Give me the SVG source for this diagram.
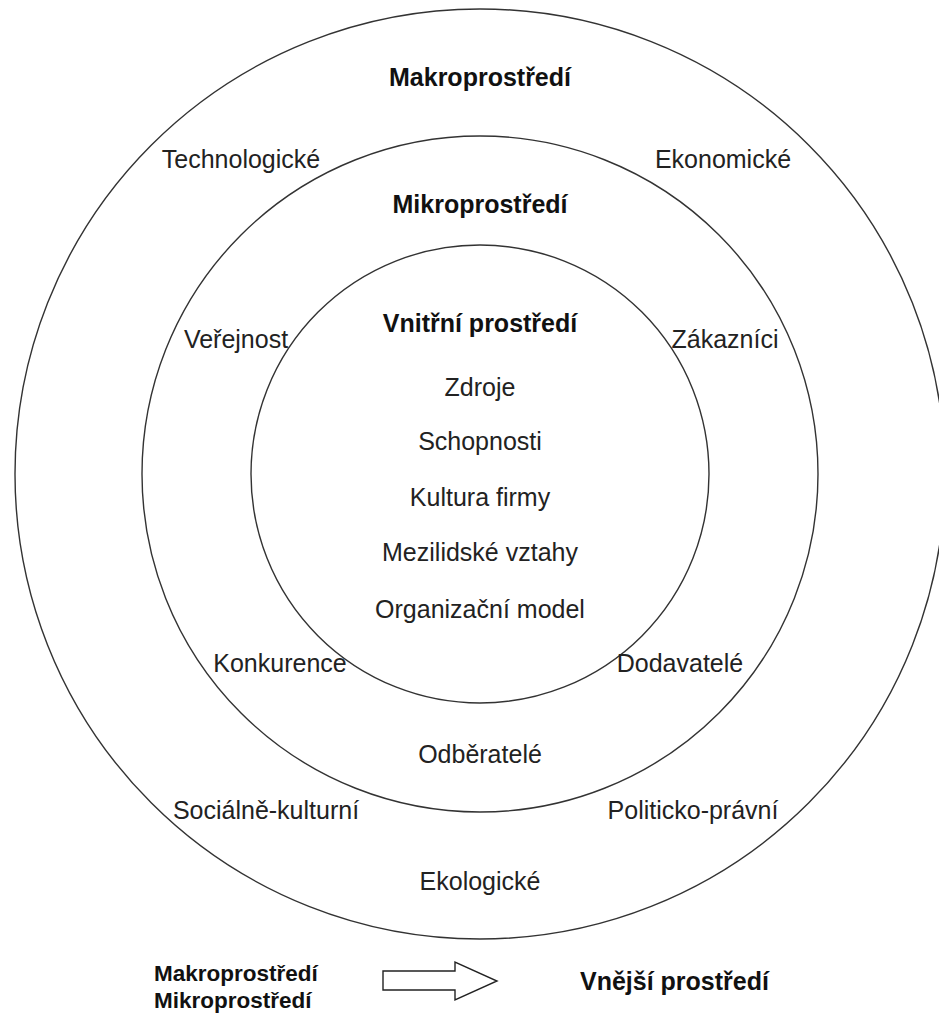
<svg xmlns="http://www.w3.org/2000/svg" width="939" height="1018" viewBox="0 0 939 1018">
  <style>
    .ring { fill: none; stroke: #333; stroke-width: 1.4; }
    .t { font-family: "Liberation Sans", Arial, sans-serif; font-size: 25px; fill: #222; text-anchor: middle; }
    .b { font-weight: bold; fill: #111; }
    .legend { font-family: "Liberation Sans", Arial, sans-serif; font-size: 22.5px; font-weight: bold; fill: #111; }
    .arrow { fill: #fff; stroke: #222; stroke-width: 1.4; stroke-linejoin: miter; }
  </style>
  <rect width="939" height="1018" fill="#fff"/>

  <!-- concentric environment rings -->
  <g id="rings">
    <circle id="makro-ring" class="ring" cx="480" cy="474" r="465"/>
    <circle id="mikro-ring" class="ring" cx="480" cy="474" r="338"/>
    <circle id="vnitrni-ring" class="ring" cx="480" cy="474" r="229"/>
  </g>

  <!-- macro environment -->
  <g id="makro">
    <text class="t b" x="480" y="86">Makroprostředí</text>
    <text class="t" x="241" y="168">Technologické</text>
    <text class="t" x="723" y="168">Ekonomické</text>
    <text class="t" x="266" y="819">Sociálně-kulturní</text>
    <text class="t" x="693" y="819">Politicko-právní</text>
    <text class="t" x="480" y="890">Ekologické</text>
  </g>

  <!-- micro environment -->
  <g id="mikro">
    <text class="t b" x="480" y="213">Mikroprostředí</text>
    <text class="t" x="236" y="348">Veřejnost</text>
    <text class="t" x="725" y="348">Zákazníci</text>
    <text class="t" x="280" y="672">Konkurence</text>
    <text class="t" x="680" y="672">Dodavatelé</text>
    <text class="t" x="480" y="763">Odběratelé</text>
  </g>

  <!-- internal environment -->
  <g id="vnitrni">
    <text class="t b" x="480" y="332">Vnitřní prostředí</text>
    <text class="t" x="480" y="396">Zdroje</text>
    <text class="t" x="480" y="450">Schopnosti</text>
    <text class="t" x="480" y="506">Kultura firmy</text>
    <text class="t" x="480" y="561">Mezilidské vztahy</text>
    <text class="t" x="480" y="618">Organizační model</text>
  </g>

  <!-- legend -->
  <g id="legend">
    <text class="legend" x="154" y="981">Makroprostředí</text>
    <text class="legend" x="154" y="1008">Mikroprostředí</text>
    <text class="legend" x="580" y="990" style="font-size:25px">Vnější prostředí</text>
  </g>
  <g id="connectors">
    <path class="arrow" d="M383 971 H455 V962 L497 981 L455 1000 V990 H383 Z"/>
  </g>
</svg>
